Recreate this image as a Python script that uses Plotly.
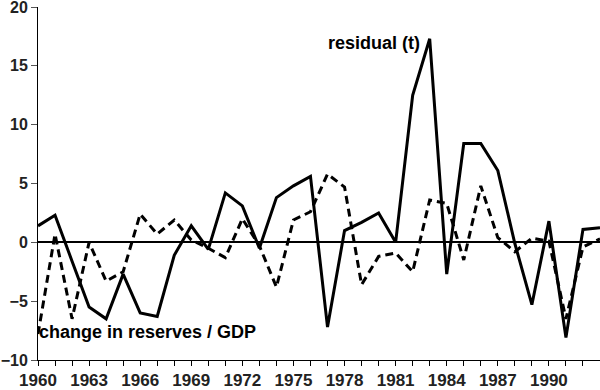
import plotly.graph_objects as go

years = list(range(1960, 1994))
residual = [1.4, 2.3, -1.6, -5.5, -6.5, -2.7, -6.0, -6.3, -1.1, 1.4,
            -0.6, 4.2, 3.1, -0.5, 3.8, 4.8, 5.6, -7.2, 1.0, 1.7,
            2.5, 0.0, 12.5, 17.3, -2.7, 8.4, 8.4, 6.1, -0.1, -5.3,
            1.8, -8.1, 1.1, 1.25]
reserves = [-7.8, 0.7, -6.5, 0.0, -3.3, -2.5, 2.4, 0.7, 1.9, 0.2,
            -0.5, -1.3, 2.0, -0.3, -3.8, 1.9, 2.6, 5.8, 4.7, -3.6,
            -1.2, -0.9, -2.5, 3.6, 3.3, -1.5, 4.8, 0.4, -0.8, 0.35,
            0.1, -6.5, -0.4, 0.3]
tick_years = list(range(1960, 1994))
tick_text = [str(y) if (y - 1960) % 3 == 0 and y <= 1990 else "" for y in tick_years]
y_ticks = [-10, -5, 0, 5, 10, 15, 20]

font_family = "Liberation Sans, Arial, sans-serif"

fig = go.Figure()
fig.add_trace(go.Scatter(x=years, y=reserves, mode="lines",
                         line=dict(color="black", width=3, dash="8px,5px"),
                         showlegend=False, hoverinfo="skip"))
fig.add_trace(go.Scatter(x=years, y=residual, mode="lines",
                         line=dict(color="black", width=3),
                         showlegend=False, hoverinfo="skip"))

fig.add_annotation(x=1979.7, y=16.9, text="<b>residual (t)</b>", showarrow=False,
                   font=dict(size=18, color="black", family=font_family))
fig.add_annotation(x=1960, y=-7.65, text="<b>change in reserves / GDP</b>", showarrow=False,
                   xanchor="left", xshift=-1,
                   font=dict(size=18, color="black", family=font_family))

fig.update_layout(
    width=600, height=390,
    margin=dict(l=38, r=0, t=7, b=30, autoexpand=False),
    paper_bgcolor="white", plot_bgcolor="white",
    font=dict(family=font_family, size=16, color="black"),
    xaxis=dict(range=[1960, 1993], tickvals=tick_years, ticktext=tick_text,
               ticks="outside", ticklen=5, tickcolor="black", tickwidth=1,
               showgrid=False, zeroline=False, showline=True, linecolor="black",
               linewidth=1, automargin=False, ticklabeloverflow="allow",
               tickfont=dict(size=17, family=font_family, weight="bold", color="#222"),
               tickangle=0),
    yaxis=dict(range=[-10, 20], tickvals=y_ticks,
               ticks="outside", ticklen=6, tickcolor="#555", tickwidth=1,
               showgrid=False, zeroline=True, zerolinecolor="black", zerolinewidth=2,
               showline=True, linecolor="black", linewidth=1,
               automargin=False, ticklabeloverflow="allow",
               tickfont=dict(size=16, family=font_family, weight="bold", color="#222")),
)

fig.write_html("out.html", config={"displayModeBar": False, "staticPlot": True},
               post_script="document.body.style.margin='0';document.body.style.overflow='hidden';")
